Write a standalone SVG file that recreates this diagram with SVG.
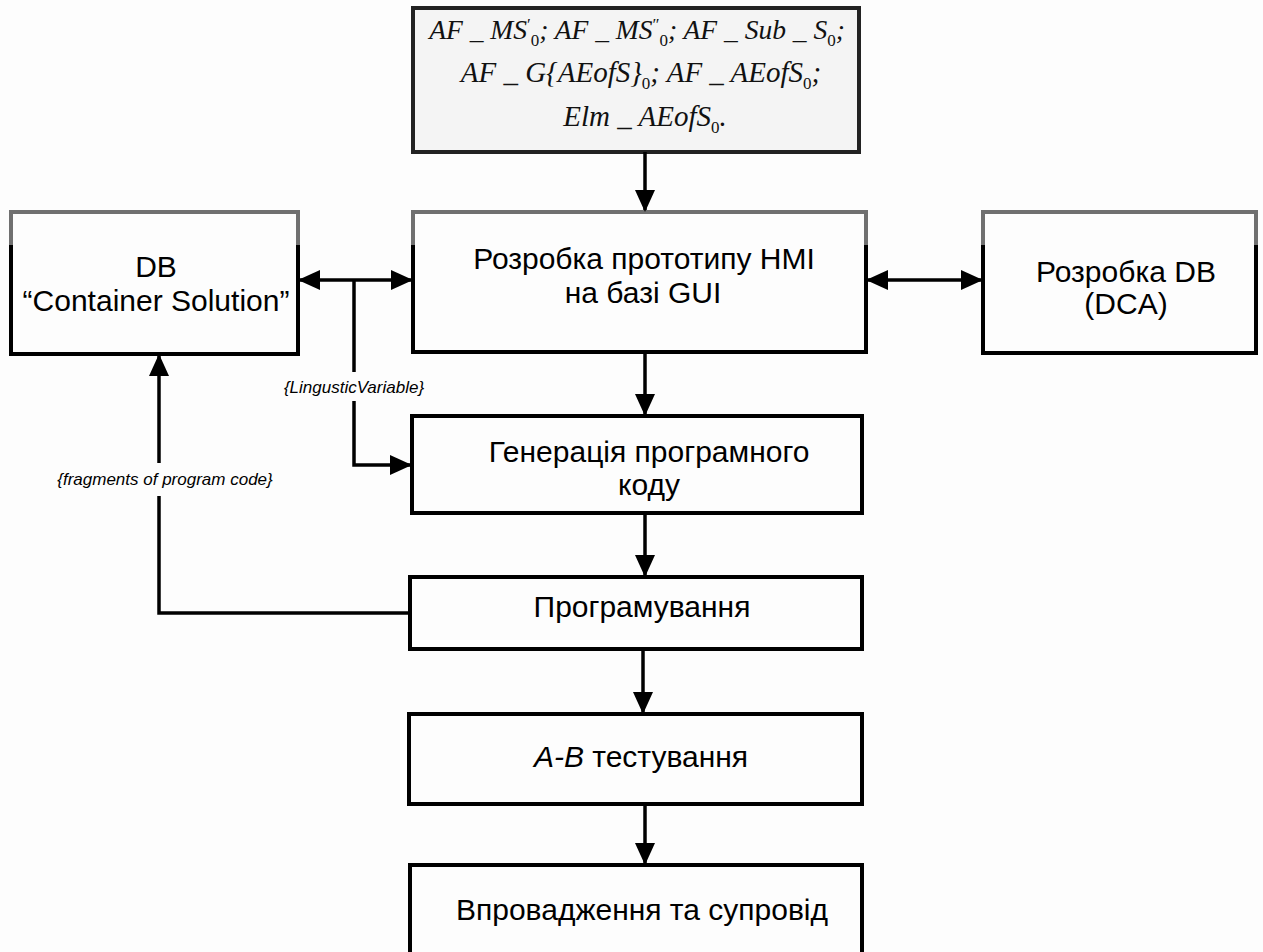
<svg xmlns="http://www.w3.org/2000/svg" width="1263" height="952" viewBox="0 0 1263 952">
<defs>
<marker id="ah" markerUnits="userSpaceOnUse" markerWidth="22" markerHeight="20" refX="20" refY="10" orient="auto-start-reverse">
<path d="M0,0 L22,10 L0,20 Z" fill="#000"/>
</marker>
<style>
.box{fill:#fdfdfd;stroke:#000;stroke-width:4}
.top{fill:none;stroke:#707070;stroke-width:4}
.t{font-family:"Liberation Sans",Arial,sans-serif;font-size:30px;fill:#000;text-anchor:middle}
.lbl{font-family:"Liberation Sans",Arial,sans-serif;font-size:17px;font-style:italic;fill:#000;text-anchor:middle}
.m{font-family:"Liberation Serif","Times New Roman",serif;font-size:29px;font-style:italic;fill:#111;text-anchor:middle}
.m1{font-size:27.5px}
.s{font-size:17px;font-style:normal}
.c{fill:none;stroke:#000;stroke-width:3.5}
</style>
</defs>
<rect width="1263" height="952" fill="#fdfdfd"/>
<g id="formula">
<rect x="413" y="8" width="446" height="144" fill="#f4f4f4" stroke="#222" stroke-width="4"/>
<text class="m m1" x="637" y="39">AF _ MS<tspan class="s" dy="-9">′</tspan><tspan class="s" dy="16">0</tspan><tspan dy="-7">; AF _ MS</tspan><tspan class="s" dy="-9">″</tspan><tspan class="s" dy="16">0</tspan><tspan dy="-7">; AF _ Sub _ S</tspan><tspan class="s" dy="7">0</tspan><tspan dy="-7">;</tspan></text>
<text class="m" x="641" y="82">AF _ G{AEofS}<tspan class="s" dy="7">0</tspan><tspan dy="-7">; AF _ AEofS</tspan><tspan class="s" dy="7">0</tspan><tspan dy="-7">;</tspan></text>
<text class="m" x="645" y="126">Elm _ AEofS<tspan class="s" dy="7">0</tspan><tspan dy="-7">.</tspan></text>
</g>
<g id="db-container">
<rect class="box" x="11" y="212" width="287" height="142"/>
<path class="top" d="M11,245 V212 H298 V245"/>
<text class="t" x="156" y="277">DB</text>
<text class="t" x="156" y="311">“Container Solution”</text>
</g>
<g id="hmi">
<rect class="box" x="413" y="212" width="453" height="140"/>
<path class="top" d="M413,245 V212 H866 V245"/>
<text class="t" x="644" y="269">Розробка прототипу HMI</text>
<text class="t" x="643" y="303">на базі GUI</text>
</g>
<g id="db-dca">
<rect class="box" x="983" y="212" width="273" height="141"/>
<path class="top" d="M983,245 V212 H1256 V245"/>
<text class="t" x="1126" y="282">Розробка DB</text>
<text class="t" x="1126" y="314">(DCA)</text>
</g>
<g id="codegen">
<rect class="box" x="412" y="416" width="450" height="97"/>
<text class="t" x="649" y="462">Генерація програмного</text>
<text class="t" x="649" y="495">коду</text>
</g>
<g id="programming">
<rect class="box" x="410" y="577" width="452" height="72"/>
<text class="t" x="642" y="617">Програмування</text>
</g>
<g id="ab-testing">
<rect class="box" x="409" y="714" width="453" height="90"/>
<text class="t" x="641" y="767"><tspan font-style="italic">A-B</tspan> тестування</text>
</g>
<g id="deployment">
<rect class="box" x="410" y="865" width="452" height="100"/>
<text class="t" x="642" y="920">Впровадження та супровід</text>
</g>
<g id="connectors">
<line class="c" x1="645" y1="152" x2="645" y2="210" marker-end="url(#ah)"/>
<line class="c" x1="300" y1="280" x2="411" y2="280" marker-start="url(#ah)" marker-end="url(#ah)"/>
<line class="c" x1="868" y1="280" x2="981" y2="280" marker-start="url(#ah)" marker-end="url(#ah)"/>
<polyline class="c" points="354,280 354,372"/>
<polyline class="c" points="354,401 354,465 410,465" marker-end="url(#ah)"/>
<text class="lbl" x="354" y="393">{LingusticVariable}</text>
<line class="c" x1="645" y1="352" x2="645" y2="414" marker-end="url(#ah)"/>
<line class="c" x1="645" y1="513" x2="645" y2="575" marker-end="url(#ah)"/>
<line class="c" x1="643" y1="649" x2="643" y2="712" marker-end="url(#ah)"/>
<line class="c" x1="645" y1="804" x2="645" y2="863" marker-end="url(#ah)"/>
<polyline class="c" points="410,613 159,613 159,496"/>
<line class="c" x1="159" y1="463" x2="159" y2="356" marker-end="url(#ah)"/>
<text class="lbl" x="165" y="485">{fragments of program code}</text>
</g>
</svg>
